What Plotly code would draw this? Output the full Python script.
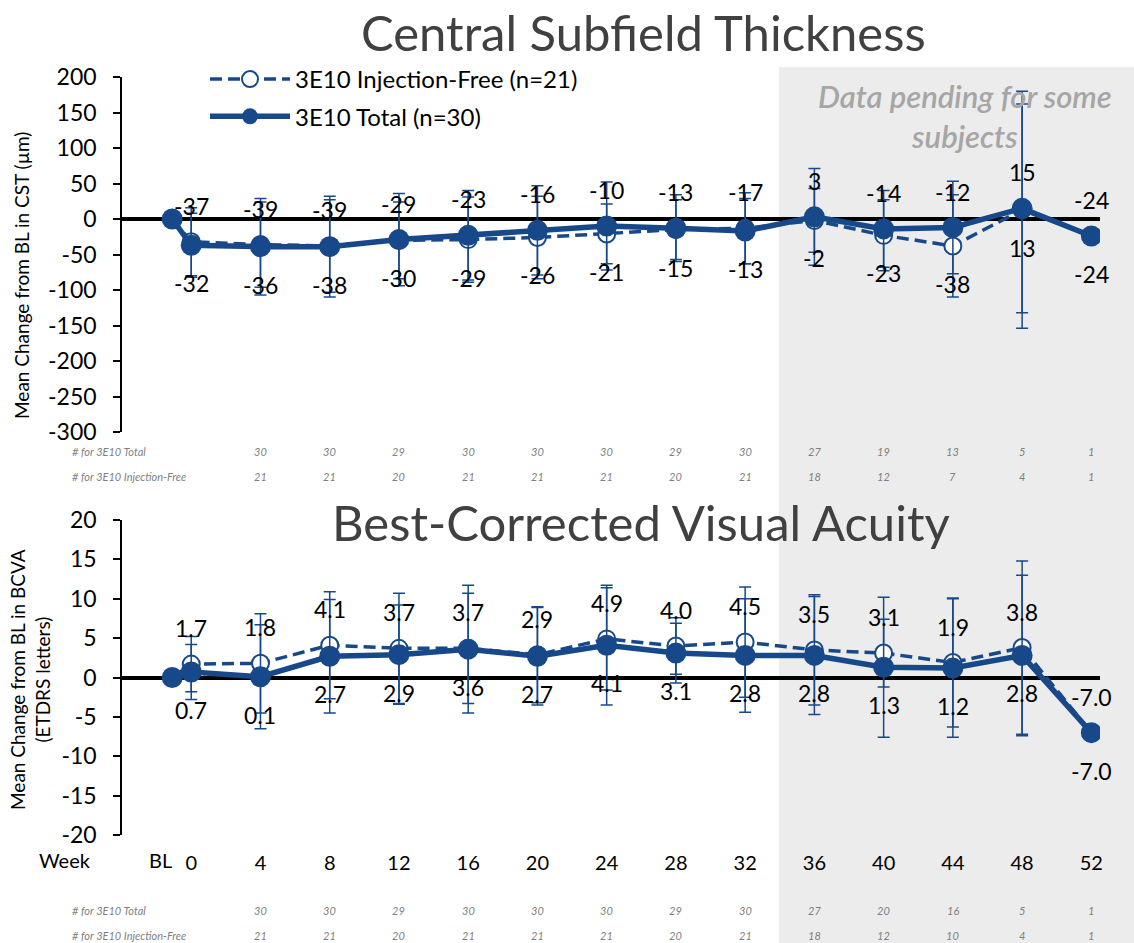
import plotly.graph_objects as go

# ---- data -----------------------------------------------------------------
WEEKS = [0, 4, 8, 12, 16, 20, 24, 28, 32, 36, 40, 44, 48, 52]
WEEK_LABELS = [str(w) for w in WEEKS]

# Central subfield thickness, mean change from baseline (µm); first value is BL
CST_TOTAL = [0, -37, -39, -39, -29, -23, -16, -10, -13, -17, 3, -14, -12, 15, -24]
CST_FREE = [0, -32, -36, -38, -30, -29, -26, -21, -15, -13, -2, -23, -38, 13, -24]
CST_TOTAL_ERR = [None, 45, 68, 71, 65, 63, 63, 62, 47, 46, 68, 54, 65, 147, None]
CST_FREE_ERR = [None, 48, 60, 65, 54, 60, 58, 42, 42, 50, 45, 50, 72, 167, None]
CST_TICKS = [200, 150, 100, 50, 0, -50, -100, -150, -200, -250, -300]

# Best-corrected visual acuity, mean change from baseline (ETDRS letters)
BCVA_TOTAL = [0, 0.7, 0.1, 2.7, 2.9, 3.6, 2.7, 4.1, 3.1, 2.8, 2.8, 1.3, 1.2, 2.8, -7.0]
BCVA_FREE = [0, 1.7, 1.8, 4.1, 3.7, 3.7, 2.9, 4.9, 4.0, 4.5, 3.5, 3.1, 1.9, 3.8, -7.0]
BCVA_TOTAL_ERR = [None, 3.5, 6.6, 7.2, 6.3, 8.1, 6.2, 7.6, 3.8, 7.2, 7.5, 8.9, 8.8, 10.2, None]
BCVA_FREE_ERR = [None, 3.5, 6.3, 6.8, 7.0, 7.0, 6.1, 6.5, 3.6, 7.0, 7.0, 4.3, 8.2, 11.0, None]
BCVA_TICKS = [20, 15, 10, 5, 0, -5, -10, -15, -20]

# subject counts shown under each panel
N_WEEKS = [4, 8, 12, 16, 20, 24, 28, 32, 36, 40, 44, 48, 52]
CST_N_TOTAL = [30, 30, 29, 30, 30, 30, 29, 30, 27, 19, 13, 5, 1]
CST_N_FREE = [21, 21, 20, 21, 21, 21, 20, 21, 18, 12, 7, 4, 1]
BCVA_N_TOTAL = [30, 30, 29, 30, 30, 30, 29, 30, 27, 20, 16, 5, 1]
BCVA_N_FREE = [21, 21, 20, 21, 21, 21, 20, 21, 18, 12, 10, 4, 1]

NAME_FREE = "3E10 Injection-Free (n=21)"
NAME_TOTAL = "3E10 Total (n=30)"

# ---- style ----------------------------------------------------------------
W, H = 1134, 943
BLUE = "#17498a"
FONT = "Lato"
BL_X = -1.1  # baseline sits just left of week 0
X_POS = [BL_X] + WEEKS


def px(p):
    return p / W


def py(p):
    return 1 - p / H


fig = go.Figure()

# pending-data band behind both panels
fig.add_shape(type="rect", xref="paper", yref="paper",
              x0=px(779), x1=1, y0=0, y1=py(67),
              fillcolor="#ececec", line_width=0, layer="below")


def add_series(xa, ya, free, free_err, total, total_err, legend):
    fig.add_trace(go.Scatter(
        x=X_POS, y=free, xaxis=xa, yaxis=ya, name=NAME_FREE,
        mode="lines+markers", showlegend=legend, legendgroup="free",
        line=dict(color=BLUE, width=3.5, dash="12px,6px"),
        marker=dict(symbol="circle", size=17, color="white",
                    line=dict(color=BLUE, width=2)),
        error_y=dict(type="data", array=free_err, color=BLUE,
                     thickness=1.5, width=6),
    ))
    fig.add_trace(go.Scatter(
        x=X_POS, y=total, xaxis=xa, yaxis=ya, name=NAME_TOTAL,
        mode="lines+markers", showlegend=legend, legendgroup="total",
        line=dict(color=BLUE, width=5.5),
        marker=dict(symbol="circle", size=21, color=BLUE),
        error_y=dict(type="data", array=total_err, color=BLUE,
                     thickness=1.5, width=6),
    ))


add_series("x", "y", CST_FREE, CST_FREE_ERR, CST_TOTAL, CST_TOTAL_ERR, True)
add_series("x2", "y2", BCVA_FREE, BCVA_FREE_ERR, BCVA_TOTAL, BCVA_TOTAL_ERR, False)

ann = []


def note(x, y, text, size, color="black", xref="paper", yref="paper",
         xanchor="center", yanchor="middle", **kw):
    font = dict(family=FONT, size=size, color=color)
    font.update(kw.pop("font", {}))
    ann.append(dict(x=x, y=y, xref=xref, yref=yref, text=text, showarrow=False,
                    xanchor=xanchor, yanchor=yanchor, font=font, **kw))


def value_labels(xref, yref, upper, lower, fmt):
    for w, u, l in zip(WEEKS, upper[1:], lower[1:]):
        hi, lo = max(u, l), min(u, l)
        note(w, hi, fmt(u), 23, xref=xref, yref=yref, yshift=36)
        note(w, lo, fmt(l), 23, xref=xref, yref=yref, yshift=-38)


# CST: total above, injection-free below; BCVA: injection-free above, total below
value_labels("x", "y", CST_TOTAL, CST_FREE, lambda v: f"{v:d}")
value_labels("x2", "y2", BCVA_FREE, BCVA_TOTAL, lambda v: f"{v:.1f}")


def count_rows(xref, y1, y2, totals, frees):
    grey = "#7f7f7f"
    it = dict(style="italic")
    note(px(70), py(y1), "# for 3E10 Total", 11, grey, xanchor="left", font=it)
    note(px(70), py(y2), "# for 3E10 Injection-Free", 11, grey, xanchor="left", font=it)
    for w, t, f in zip(N_WEEKS, totals, frees):
        note(w, py(y1), str(t), 11, grey, xref=xref, font=it)
        note(w, py(y2), str(f), 11, grey, xref=xref, font=it)


count_rows("x", 451, 476, CST_N_TOTAL, CST_N_FREE)
count_rows("x2", 910, 935, BCVA_N_TOTAL, BCVA_N_FREE)

# panel titles
note(px(643), py(32), "Central Subfield Thickness", 49, "#404040")
note(px(641), py(522), "Best-Corrected Visual Acuity", 49, "#404040")

# axis titles
note(px(21), py(276), "Mean Change from BL in CST (µm)", 19, textangle=-90)
note(px(30), py(680), "Mean Change from BL in BCVA<br>(ETDRS letters)", 19,
     textangle=-90)

# week row extras
note(px(65), py(860), "Week", 20)
note(BL_X, py(860), "BL", 20, xref="x2", xanchor="right", xshift=2)

# pending-data note
note(px(965), py(116), "Data pending for some<br>subjects", 31, "#a6a6a6",
     font=dict(style="italic", weight=600))

XDOM = [px(122), px(1100)]
XRANGE = [-4, 52.5]
yaxis_common = dict(showgrid=False, showline=True, linecolor="black", linewidth=1.5,
                    ticks="outside", ticklen=7, tickwidth=1.5, tickcolor="black",
                    zeroline=True, zerolinecolor="black", zerolinewidth=4,
                    automargin=False, ticklabelstandoff=12,
                    tickfont=dict(family=FONT, size=23, color="black"))

fig.update_layout(
    width=W, height=H,
    margin=dict(l=0, r=0, t=0, b=0, autoexpand=False),
    paper_bgcolor="white", plot_bgcolor="rgba(0,0,0,0)",
    showlegend=True,
    legend=dict(x=px(205), y=py(57), xanchor="left", yanchor="top",
                bgcolor="rgba(0,0,0,0)", itemwidth=80, tracegroupgap=3,
                font=dict(family=FONT, size=24, color="black")),
    xaxis=dict(domain=XDOM, range=XRANGE, anchor="y", showgrid=False,
               zeroline=False, showline=False, showticklabels=False, ticks="",
               automargin=False),
    xaxis2=dict(domain=XDOM, range=XRANGE, anchor="y2", showgrid=False,
                zeroline=False, showline=False, ticks="", automargin=False,
                tickvals=WEEKS, ticktext=WEEK_LABELS, ticklabelstandoff=14,
                tickfont=dict(family=FONT, size=20, color="black")),
    yaxis=dict(domain=[py(432), py(77)], range=[-300, 200],
               tickvals=CST_TICKS, ticktext=[str(v) for v in CST_TICKS],
               anchor="x", **yaxis_common),
    yaxis2=dict(domain=[py(835), py(520)], range=[-20, 20],
                tickvals=BCVA_TICKS, ticktext=[str(v) for v in BCVA_TICKS],
                anchor="x2", **yaxis_common),
    annotations=ann,
)

fig.write_html("out.html")
